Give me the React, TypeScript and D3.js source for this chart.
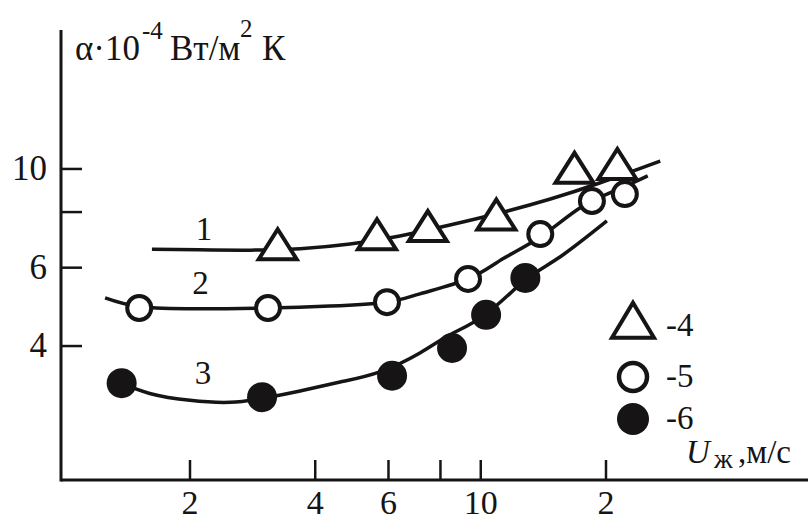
import React from 'react';
import * as d3 from 'd3';

const W = 808;
const H = 520;
const INK = '#161414';
const FONT = 'Liberation Serif';

// Measured points, series 1 (triangles, -4)
const s1U = [3.25, 5.63, 7.46, 10.9, 16.8, 21.3];
const s1A = [6.6, 6.95, 7.25, 7.7, 9.8, 10.0];
// Measured points, series 2 (open circles, -5)
const s2U = [1.51, 3.08, 5.95, 9.32, 13.9, 18.5, 22.2];
const s2A = [4.87, 4.87, 5.02, 5.66, 7.14, 8.47, 8.78];
// Measured points, series 3 (filled circles, -6)
const s3U = [1.37, 2.98, 6.12, 8.53, 10.3, 12.8];
const s3A = [3.3, 3.07, 3.43, 3.96, 4.7, 5.69];

// Smoothed curves 1, 2, 3
const c1U = [1.62, 2.11, 2.79, 3.68, 4.85, 6.39, 8.43, 11.1, 14.7, 19.3, 27.0];
const c1A = [6.6, 6.58, 6.57, 6.62, 6.78, 7.07, 7.48, 7.96, 8.56, 9.3, 10.42];
const c2U = [1.25, 1.52, 2.11, 3.08, 4.34, 5.95, 7.14, 9.32, 11.3, 13.9, 17.3, 21.0, 25.2];
const c2A = [5.13, 4.9, 4.85, 4.87, 4.92, 5.02, 5.24, 5.66, 6.28, 7.03, 8.17, 8.93, 9.65];
const c3U = [1.37, 1.6, 2.0, 2.5, 2.98, 3.68, 4.59, 5.72, 7.14, 8.43, 10.3, 12.8, 15.5, 20.1];
const c3A = [3.3, 3.13, 3.02, 2.99, 3.05, 3.17, 3.32, 3.5, 3.86, 4.24, 4.72, 5.63, 6.34, 7.64];

const curveNames = ['1', '2', '3'];
const curveLabelU = [2.16, 2.12, 2.15];
const curveLabelA = [6.92, 5.24, 3.29];

// Axis ticks
const xTicks = [2, 4, 6, 8, 10, 20];
const xTickLabels = ['2', '4', '6', '', '10', '2'];
const yTicks = [4, 6, 8, 10];
const yTickLabels = ['4', '6', '', '10'];

// Legend
const legendKinds = ['triangle', 'open', 'filled'];
const legendLabels = ['-4', '-5', '-6'];

const x = d3.scaleLog().domain([2, 20]).range([190, 606]);
const y = d3.scaleLog().domain([2, 20]).range([480, 35]);

const zip = (u: number[], a: number[]) => u.map((v, i) => [v, a[i]] as [number, number]);

const line = d3
  .line<[number, number]>()
  .x((d) => x(d[0]))
  .y((d) => y(d[1]))
  .curve(d3.curveNatural);

function Triangle({ cx, cy, w, h }: { cx: number; cy: number; w: number; h: number }) {
  const top = cy - (2 * h) / 3;
  const base = cy + h / 3;
  const p = `M${cx},${top}L${cx + w / 2},${base}L${cx - w / 2},${base}Z`;
  return <path d={p} fill="#fff" stroke={INK} strokeWidth={4} strokeLinejoin="miter" />;
}

function T(props: any) {
  const { children, style, ...rest } = props;
  return (
    <text fontFamily={FONT} fill={INK} style={{ fontFamily: FONT, ...(style || {}) }} {...rest}>
      {children}
    </text>
  );
}

export default function App() {
  const x0 = x.range()[0] - 129;
  const yBase = y(2);
  const legendY = [326, 377, 419];
  return (
    <svg
      width={W}
      height={H}
      viewBox={`0 0 ${W} ${H}`}
      fontFamily={FONT}
      style={{ position: 'absolute', left: 0, top: 0 }}
    >
      <rect width={W} height={H} fill="#fff" />

      {/* axes */}
      <line x1={x0} y1={30} x2={x0} y2={yBase + 1.5} stroke={INK} strokeWidth={3} />
      <line x1={x0} y1={yBase} x2={W} y2={yBase} stroke={INK} strokeWidth={3} />

      {xTicks.map((t, i) => (
        <g key={'xt' + i}>
          <line x1={x(t)} x2={x(t)} y1={yBase} y2={yBase - 20} stroke={INK} strokeWidth={2.5} />
          {xTickLabels[i] && (
            <T x={x(t)} y={yBase + 34} fontSize={34} textAnchor="middle">
              {xTickLabels[i]}
            </T>
          )}
        </g>
      ))}
      {yTicks.map((t, i) => (
        <g key={'yt' + i}>
          <line x1={x0} x2={x0 + 21} y1={y(t)} y2={y(t)} stroke={INK} strokeWidth={2.5} />
          {yTickLabels[i] && (
            <T x={x0 - 14} y={y(t) + 11} fontSize={35} textAnchor="end">
              {yTickLabels[i]}
            </T>
          )}
        </g>
      ))}

      {/* axis titles */}
      <T x={75} y={60} fontSize={35}>
        <tspan>α·10</tspan>
        <tspan x={142} y={39} fontSize={25}>-4</tspan>
        <tspan x={170} y={60}>Вт/м</tspan>
        <tspan x={240} y={37} fontSize={25}>2</tspan>
        <tspan x={262} y={60}>К</tspan>
      </T>
      <T x={686} y={463} fontSize={33}>
        <tspan fontStyle="italic">U</tspan>
        <tspan x={714} y={468} fontSize={27}>ж</tspan>
        <tspan x={738} y={463}>,м/с</tspan>
      </T>

      {/* curves */}
      {[zip(c1U, c1A), zip(c2U, c2A), zip(c3U, c3A)].map((pts, i) => (
        <path key={'c' + i} d={line(pts) || ''} fill="none" stroke={INK} strokeWidth={3.5} strokeLinecap="butt" />
      ))}

      {curveNames.map((n, i) => (
        <T key={'cn' + i} x={x(curveLabelU[i])} y={y(curveLabelA[i])} fontSize={33} textAnchor="middle">
          {n}
        </T>
      ))}

      {/* markers */}
      {zip(s1U, s1A).map((d, i) => (
        <Triangle key={'t' + i} cx={x(d[0])} cy={y(d[1])} w={38} h={30} />
      ))}
      {zip(s2U, s2A).map((d, i) => (
        <circle key={'o' + i} cx={x(d[0])} cy={y(d[1])} r={12} fill="#fff" stroke={INK} strokeWidth={4} />
      ))}
      {zip(s3U, s3A).map((d, i) => (
        <circle key={'f' + i} cx={x(d[0])} cy={y(d[1])} r={15} fill={INK} />
      ))}

      {/* legend */}
      {legendKinds.map((k, i) => {
        const cy = legendY[i];
        const cx = 633;
        return (
          <g key={'lg' + i}>
            {k === 'triangle' && <Triangle cx={cx} cy={cy} w={42} h={35} />}
            {k === 'open' && <circle cx={cx} cy={cy} r={14} fill="#fff" stroke={INK} strokeWidth={4.5} />}
            {k === 'filled' && <circle cx={cx} cy={cy} r={16} fill={INK} />}
            <T x={666} y={cy + 10} fontSize={33}>
              {legendLabels[i]}
            </T>
          </g>
        );
      })}
    </svg>
  );
}
